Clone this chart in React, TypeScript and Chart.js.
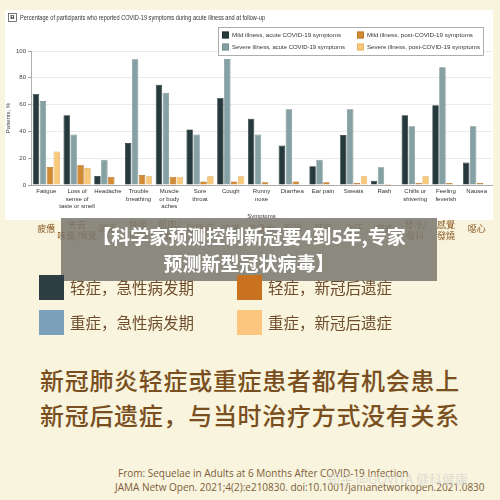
import React, { useEffect, useRef } from "react";
import { Chart, registerables } from "chart.js";

Chart.register(...registerables);

const categories: string[][] = [
  ["Fatigue"], ["Loss of", "sense of", "taste or smell"], ["Headache"], ["Trouble", "breathing"],
  ["Muscle", "or body", "aches"], ["Sore", "throat"], ["Cough"], ["Runny", "nose"], ["Diarrhea"],
  ["Ear pain"], ["Sweats"], ["Rash"], ["Chills or", "shivering"], ["Feeling", "feverish"], ["Nausea"],
];
const zhLabels: string[][] = [
  ["疲憊"], ["失去", "味覺/嗅覺"], ["頭痛"], ["呼吸", "困難"], ["肌肉/", "身體痛"], ["喉嚨痛"], ["咳嗽"],
  ["流鼻水"], ["腹瀉"], ["耳痛"], ["出汗"], ["皮疹"], ["發冷/", "發抖"], ["感覺", "發燒"], ["噁心"],
];
const mildAcute = [68, 52, 6.7, 31.3, 74.9, 41.5, 65, 49.5, 29.4, 14, 37.3, 3.2, 52, 59.5, 16.7];
const severeAcute = [62.7, 37.6, 18.9, 93.8, 68.9, 37.6, 94, 37.6, 56.5, 18.9, 56.5, 13.2, 43.8, 87.8, 43.8];
const mildPost = [13.4, 15, 6.2, 7.5, 6.2, 2.7, 2.7, 2, 2.7, 2, 1.5, 0.7, 1.5, 1.5, 1.5];
const severePost: (number | null)[] = [25, 12.7, null, 6.5, 6.2, 6.5, 6.5, null, null, null, 6.5, null, 6.5, null, null];
const seriesNames = [
  "Mild illness, acute COVID-19 symptoms",
  "Severe illness, acute COVID-19 symptoms",
  "Mild illness, post-COVID-19 symptoms",
  "Severe illness, post-COVID-19 symptoms",
];
const yTicks = [0, 20, 40, 60, 80, 100];
const chartTitle = "Percentage of participants who reported COVID-19 symptoms during acute illness and at follow-up";
const fills = ["#263a3e", "#86a1a3", "#d28a34", "#f9c97b"];
const borders = ["#1b2a2d", "#6c8688", "#b06d1f", "#d9a552"];

const legendZh = [
  ["轻症，急性病发期", "#2d3d42"],
  ["重症，急性病发期", "#7ba0b9"],
  ["轻症，新冠后遗症", "#c8711f"],
  ["重症，新冠后遗症", "#fdc67f"],
];

function fitText(ctx: CanvasRenderingContext2D, text: string, x: number, y: number, w: number) {
  const m = ctx.measureText(text).width;
  ctx.save();
  ctx.translate(x, y);
  ctx.scale(Math.min(1, w / m), 1);
  ctx.fillText(text, 0, 0);
  ctx.restore();
}

const decor = {
  id: "decor",
  beforeDraw(chart: any) {
    const ctx = chart.ctx as CanvasRenderingContext2D;
    ctx.save();
    ctx.fillStyle = "#f8f4dd";
    ctx.fillRect(0, 0, chart.width, chart.height);
    ctx.fillStyle = "#ffffff";
    ctx.fillRect(5, 10, 488, 210);
    ctx.restore();
  },
  afterDraw(chart: any) {
    const ctx = chart.ctx as CanvasRenderingContext2D;
    ctx.save();
    // title
    ctx.strokeStyle = "#555";
    ctx.lineWidth = 0.8;
    ctx.strokeRect(8.5, 13.5, 8, 8);
    ctx.fillStyle = "#222";
    ctx.font = "bold 6px 'Liberation Sans'";
    ctx.textAlign = "center";
    ctx.textBaseline = "middle";
    ctx.fillText("B", 12.5, 17.8);
    ctx.textAlign = "left";
    ctx.font = "6.5px 'Liberation Sans'";
    ctx.fillStyle = "#333";
    fitText(ctx, chartTitle, 20, 18, 245);
    // legend
    ctx.fillStyle = "#fff";
    ctx.fillRect(218, 27, 265, 28);
    ctx.strokeStyle = "#9a9a9a";
    ctx.strokeRect(218.5, 27.5, 265, 28);
    const pos = [[222, 35], [222, 47], [357, 35], [357, 47]];
    chart.data.datasets.forEach((ds: any, i: number) => {
      const [x, y] = pos[i];
      ctx.fillStyle = ds.backgroundColor;
      ctx.fillRect(x, y - 3.5, 7, 7);
      ctx.strokeStyle = ds.borderColor;
      ctx.lineWidth = 0.6;
      ctx.strokeRect(x + 0.5, y - 3, 6, 6);
      ctx.fillStyle = "#333";
      ctx.font = "6.2px 'Liberation Sans'";
      ctx.textBaseline = "middle";
      fitText(ctx, ds.label, x + 10, y + 0.5, 113);
    });
    // chinese labels under categories
    const xs = chart.scales.x;
    ctx.fillStyle = "#8a5a26";
    ctx.font = "9px 'Noto Sans CJK TC'";
    ctx.textAlign = "center";
    ctx.textBaseline = "middle";
    zhLabels.forEach((lines, i) => {
      const x = xs.getPixelForValue(i);
      if (lines.length === 1) ctx.fillText(lines[0], x, 229);
      else lines.forEach((l, j) => ctx.fillText(l, x, 225 + j * 11));
    });
    ctx.restore();
  },
};

function BarChart() {
  const ref = useRef<HTMLCanvasElement>(null);
  useEffect(() => {
    const data = [mildAcute, severeAcute, mildPost, severePost];
    const chart = new Chart(ref.current!, {
      type: "bar",
      data: {
        labels: categories,
        datasets: data.map((d, i) => ({
          label: seriesNames[i],
          data: d,
          backgroundColor: fills[i],
          borderColor: borders[i],
          borderWidth: 0.7,
          categoryPercentage: 0.9,
          barPercentage: 0.93,
        })),
      },
      options: {
        animation: false,
        responsive: false,
        maintainAspectRatio: false,
        layout: { padding: { top: 51, right: 8, left: 5, bottom: 30 } },
        plugins: { legend: { display: false }, title: { display: false }, tooltip: { enabled: false } },
        scales: {
          x: {
            grid: { display: false, drawTicks: false, tickLength: 0 },
            border: { color: "#9a9a9a", width: 0.8 },
            ticks: {
              color: "#333",
              font: { size: 6, family: "'Liberation Sans'", lineHeight: 1.25 },
              padding: 3,
              maxRotation: 0,
              autoSkip: false,
            },
            title: {
              display: true,
              text: "Symptoms",
              color: "#333",
              font: { size: 6, family: "'Liberation Sans'" },
              padding: { top: 0, bottom: 0 },
            },
            afterFit(scale: any) { scale.height = 35; },
          },
          y: {
            min: 0,
            max: 100,
            afterBuildTicks(scale: any) { scale.ticks = yTicks.map((v) => ({ value: v })); },
            grid: { color: "#e4e4e4", lineWidth: 0.8, tickLength: 3, tickColor: "#888" },
            border: { color: "#9a9a9a", width: 0.8 },
            ticks: { color: "#444", font: { size: 6, family: "'Liberation Sans'" }, padding: 2 },
            title: {
              display: true,
              text: "Patients, %",
              color: "#444",
              font: { size: 6, family: "'Liberation Sans'" },
              padding: { top: 0, bottom: 0 },
            },
            afterFit(scale: any) { scale.width = 26; },
          },
        },
      },
      plugins: [decor],
    });
    return () => chart.destroy();
  }, []);
  return <canvas ref={ref} width={500} height={250} style={{ position: "absolute", left: 0, top: 0, width: 500, height: 250 }} />;
}

export default function App() {
  const zh = "'Noto Sans CJK SC', sans-serif";
  return (
    <div style={{ position: "fixed", left: 0, top: 0, width: 500, height: 500, background: "#f8f4dd", overflow: "hidden" }}>
      <BarChart />
      <div style={{ position: "absolute", left: 61, top: 218, width: 376, height: 63, background: "rgba(122,120,112,0.86)" }}>
        <div style={{ fontFamily: zh, fontWeight: 700, fontSize: 19, color: "#fff", textAlign: "center", lineHeight: "27px", marginTop: 4, whiteSpace: "nowrap" }}>
          <div>【科学家预测控制新冠要4到5年,专家</div>
          <div>预测新型冠状病毒】</div>
        </div>
      </div>
      {legendZh.map(([t, c], i) => {
        const col = Math.floor(i / 2);
        const row = i % 2;
        const x = col === 0 ? 39 : 237;
        const y = row === 0 ? 275 : 310;
        return (
          <React.Fragment key={t}>
            <div style={{ position: "absolute", left: x, top: y, width: 25, height: 25, background: c }} />
            <div style={{ position: "absolute", left: x + 31, top: y, height: 25, lineHeight: "25px", fontFamily: zh, fontSize: 15.5, color: "#6e4c2c", whiteSpace: "nowrap" }}>{t}</div>
          </React.Fragment>
        );
      })}
      <div style={{ position: "absolute", left: 40, top: 362, fontFamily: zh, fontWeight: 500, fontSize: 24, letterSpacing: 0.7, lineHeight: "35px", color: "#7a4f20", whiteSpace: "nowrap" }}>
        <div>新冠肺炎轻症或重症患者都有机会患上</div>
        <div>新冠后遗症，与当时治疗方式没有关系</div>
      </div>
      <div style={{ position: "absolute", left: 118, top: 466, fontFamily: "'Open Sans', sans-serif", fontSize: 10, color: "#7d5d3b", whiteSpace: "nowrap", lineHeight: "14px" }}>
        From: Sequelae in Adults at 6 Months After COVID-19 Infection
      </div>
      <div style={{ position: "absolute", left: 115, top: 480, fontFamily: "'Open Sans', sans-serif", fontSize: 10, color: "#7d5d3b", whiteSpace: "nowrap", lineHeight: "14px" }}>
        JAMA Netw Open. 2021;4(2):e210830. doi:10.1001/jamanetworkopen.2021.0830
      </div>
      <div style={{ position: "absolute", left: 327, top: 469, fontFamily: zh, fontSize: 13, color: "rgba(220,218,210,0.9)", whiteSpace: "nowrap" }}>
        知乎 @GOVITA 健科健康
      </div>
    </div>
  );
}
